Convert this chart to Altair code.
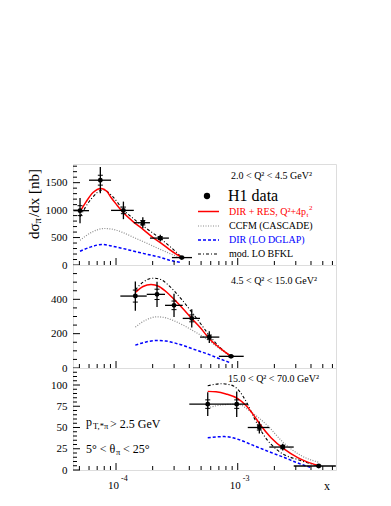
import altair as alt
import pandas as pd

FONT = "Liberation Serif"
XDOM = [4.43e-5, 6.42e-3]
W = 263

# ---------------- data: panel 1 (2.0 < Q2 < 4.5) ----------------
p1_x = [5.06e-5, 7.43e-5, 1.15e-4, 1.66e-4, 2.31e-4, 3.47e-4]
p1_xlo = [4.49e-5, 6.0e-5, 9.1e-5, 1.40e-4, 1.90e-4, 2.88e-4]
p1_xhi = [6.0e-5, 9.1e-5, 1.40e-4, 1.90e-4, 2.72e-4, 4.21e-4]
p1_y = [990, 1545, 995, 770, 490, 135]
p1_err = [230, 240, 160, 100, 60, 25]
p1_stat = [90, 90, 60, 40, 25, 10]

p1_red_x = [5.06e-5, 5.67e-5, 6.47e-5, 7.53e-5, 8.43e-5, 9.10e-5, 1.019e-4, 1.142e-4, 1.380e-4, 1.667e-4, 2.014e-4, 2.343e-4, 2.83e-4, 3.466e-4]
p1_red_y = [970, 1150, 1320, 1395, 1340, 1230, 1090, 960, 790, 650, 500, 400, 260, 135]
p1_bfkl_x = [5.06e-5, 6.23e-5, 7.82e-5, 9.45e-5, 1.142e-4, 1.380e-4, 1.667e-4, 2.014e-4, 2.343e-4, 2.83e-4, 3.466e-4]
p1_bfkl_y = [880, 1200, 1370, 1240, 1010, 850, 710, 580, 470, 320, 140]
p1_ccfm_x = [5.06e-5, 6.23e-5, 7.97e-5, 9.45e-5, 1.142e-4, 1.405e-4, 1.698e-4, 2.132e-4, 2.83e-4, 3.466e-4]
p1_ccfm_y = [450, 590, 665, 650, 590, 500, 420, 320, 200, 130]
p1_dir_x = [5.06e-5, 6.23e-5, 7.67e-5, 9.45e-5, 1.142e-4, 1.380e-4, 1.667e-4, 2.30e-4, 2.83e-4, 3.466e-4]
p1_dir_y = [250, 330, 375, 340, 300, 255, 212, 140, 80, 45]

# ---------------- data: panel 2 (4.5 < Q2 < 15.0) ----------------
p2_x = [1.441e-4, 2.172e-4, 2.996e-4, 4.19e-4, 5.84e-4, 8.81e-4]
p2_xlo = [1.085e-4, 1.788e-4, 2.527e-4, 3.532e-4, 4.90e-4, 7.0e-4]
p2_xhi = [1.788e-4, 2.527e-4, 3.532e-4, 4.90e-4, 7.06e-4, 1.12e-3]
p2_y = [419, 429, 365, 289, 180, 68]
p2_err = [85, 73, 68, 53, 34, 10]
p2_stat = [35, 30, 25, 20, 12, 5]

p2_red_x = [1.441e-4, 1.667e-4, 1.940e-4, 2.256e-4, 2.625e-4, 2.996e-4, 3.552e-4, 4.19e-4, 4.994e-4, 5.84e-4, 7.02e-4, 8.81e-4]
p2_red_y = [440, 475, 487, 475, 440, 400, 345, 288, 230, 170, 120, 68]
p2_bfkl_x = [1.441e-4, 1.667e-4, 2.014e-4, 2.343e-4, 2.625e-4, 2.996e-4, 3.552e-4, 4.19e-4, 4.994e-4, 5.84e-4, 7.02e-4, 8.81e-4]
p2_bfkl_y = [455, 500, 523, 515, 490, 450, 390, 325, 255, 190, 125, 68]
p2_ccfm_x = [1.441e-4, 1.764e-4, 2.172e-4, 2.575e-4, 2.996e-4, 3.552e-4, 4.19e-4, 4.994e-4, 5.84e-4, 7.02e-4, 8.81e-4]
p2_ccfm_y = [238, 280, 298, 292, 275, 250, 222, 190, 158, 115, 68]
p2_dir_x = [1.441e-4, 1.764e-4, 2.172e-4, 2.575e-4, 2.996e-4, 3.552e-4, 4.19e-4, 4.994e-4, 5.84e-4, 7.02e-4, 8.81e-4]
p2_dir_y = [133, 152, 160, 157, 147, 132, 113, 95, 78, 55, 29]

# ---------------- data: panel 3 (15.0 < Q2 < 70.0) ----------------
p3_x = [5.67e-4, 9.81e-4, 1.505e-3, 2.343e-3, 4.63e-3]
p3_xlo = [4.0e-4, 7.29e-4, 1.209e-3, 1.818e-3, 2.885e-3]
p3_xhi = [7.29e-4, 1.209e-3, 1.818e-3, 2.885e-3, 6.4e-3]
p3_y = [77.5, 77.5, 50, 27, 4.7]
p3_err = [14, 15, 7, 4, 1.5]
p3_stat = [5, 5, 3, 2, 0.8]

p3_red_x = [5.67e-4, 6.63e-4, 8.01e-4, 1.0e-3, 1.170e-3, 1.361e-3, 1.554e-3, 1.878e-3, 2.415e-3, 3.112e-3, 3.71e-3, 4.545e-3]
p3_red_y = [92.5, 92, 89.5, 84, 76, 64, 52, 38, 24.5, 14.5, 9.5, 5.5]
p3_bfkl_x = [5.67e-4, 7.29e-4, 8.81e-4, 1.0e-3, 1.209e-3, 1.368e-3, 1.654e-3, 2.132e-3, 3.312e-3, 4.63e-3]
p3_bfkl_y = [99, 101.5, 100, 95, 77, 61, 40, 23, 11, 4.5]
p3_ccfm_x = [5.67e-4, 7.29e-4, 1.0e-3, 1.239e-3, 1.469e-3, 1.764e-3, 2.343e-3, 3.312e-3, 4.63e-3]
p3_ccfm_y = [73, 76.5, 77.5, 70, 62, 52, 33, 17, 9]
p3_dir_x = [5.67e-4, 7.76e-4, 1.0e-3, 1.368e-3, 1.878e-3, 2.415e-3, 3.112e-3, 4.0e-3]
p3_dir_y = [38, 39.3, 36.2, 28.4, 20.6, 14.7, 8.2, 3]

# axis ticks
x_major = [1e-4, 1e-3]
x_minor = [5e-5, 6e-5, 7e-5, 8e-5, 9e-5, 2e-4, 3e-4, 4e-4, 5e-4, 6e-4, 7e-4, 8e-4, 9e-4,
           2e-3, 3e-3, 4e-3, 5e-3, 6e-3]
x_labels = ["10", "10"]
x_exps = ["-4", "-3"]

RED = "#ff0000"
BLUE = "#0000ff"
GRAY = "#8c8c8c"

xsc = alt.Scale(type="log", domain=XDOM, nice=False)
ONE = pd.DataFrame({"a": [0]})


def txt(s, x, y, size=10, color="black", align="left", angle=0):
    kw = dict(text=s, font=FONT, fontSize=size, color=color, align=align, baseline="middle")
    if angle:
        kw["angle"] = angle
    return alt.Chart(ONE).mark_text(**kw).encode(x=alt.value(x), y=alt.value(y))


def hline(x1, x2, y, color, width, dash):
    kw = dict(color=color, strokeWidth=width)
    if dash:
        kw["strokeDash"] = dash
    return alt.Chart(ONE).mark_rule(**kw).encode(x=alt.value(x1), x2=alt.value(x2), y=alt.value(y))


def panel(h, ydom, ymajor, yminor, px, pxlo, pxhi, py, perr, pstat, curves, extra):
    ysc = alt.Scale(domain=ydom, nice=False, zero=False)
    yax = alt.Axis(values=ymajor, ticks=False, domain=False, grid=False, title=None, format="d",
                   labelFont=FONT, labelFontSize=11, labelColor="black", labelPadding=6)
    X = lambda f: alt.X(f, scale=xsc, axis=None)
    Y = lambda f: alt.Y(f, scale=ysc, axis=yax)

    layers = []
    # model curves
    for xs, ys, color, width, dash in curves:
        kw = dict(color=color, strokeWidth=width, interpolate="monotone", clip=True)
        if dash:
            kw["strokeDash"] = dash
        layers.append(alt.Chart(pd.DataFrame({"x": xs, "y": ys})).mark_line(**kw)
                      .encode(x=X("x:Q"), y=Y("y:Q")))
    # data points
    df = pd.DataFrame({"x": px, "xlo": pxlo, "xhi": pxhi, "y": py,
                       "ylo": [a - b for a, b in zip(py, perr)],
                       "yhi": [a + b for a, b in zip(py, perr)],
                       "slo": [a - b for a, b in zip(py, pstat)],
                       "shi": [a + b for a, b in zip(py, pstat)]})
    base = alt.Chart(df)
    layers.append(base.mark_rule(color="black", strokeWidth=1.3, clip=True)
                  .encode(x=X("xlo:Q"), x2="xhi:Q", y=Y("y:Q")))
    layers.append(base.mark_rule(color="black", strokeWidth=1.3)
                  .encode(x=X("x:Q"), y=Y("ylo:Q"), y2="yhi:Q"))
    for f in ["slo:Q", "shi:Q"]:
        layers.append(base.mark_point(shape="M-1,0L1,0", size=25, filled=False,
                                      color="black", strokeWidth=1, opacity=1)
                      .encode(x=X("x:Q"), y=Y(f)))
    layers.append(base.mark_circle(size=24, color="black", opacity=1)
                  .encode(x=X("x:Q"), y=Y("y:Q")))
    # inner ticks
    layers.append(alt.Chart(pd.DataFrame({"v": x_major})).mark_rule(color="black", strokeWidth=1)
                  .encode(x=X("v:Q"), y=alt.value(h), y2=alt.value(h - 7)))
    layers.append(alt.Chart(pd.DataFrame({"v": x_minor})).mark_rule(color="black", strokeWidth=1)
                  .encode(x=X("v:Q"), y=alt.value(h), y2=alt.value(h - 4)))
    layers.append(alt.Chart(pd.DataFrame({"v": ymajor})).mark_rule(color="black", strokeWidth=1)
                  .encode(y=Y("v:Q"), x=alt.value(0), x2=alt.value(7)))
    layers.append(alt.Chart(pd.DataFrame({"v": yminor})).mark_rule(color="black", strokeWidth=1)
                  .encode(y=Y("v:Q"), x=alt.value(0), x2=alt.value(4)))
    layers += extra
    return alt.layer(*layers).properties(width=W, height=h)


def curveset(rx, ry, bx, by, cx, cy, dx, dy):
    return [
        (cx, cy, GRAY, 1.2, [1, 1.5]),
        (dx, dy, BLUE, 1.5, [3, 2]),
        (bx, by, "black", 1.1, [3, 2, 1, 2]),
        (rx, ry, RED, 1.5, None),
    ]


# panel 1 extras: legend + y title
leg1 = [
    txt("2.0 < Q² < 4.5 GeV²", 158, 12, 10),
    alt.Chart(ONE).mark_circle(size=40, color="black", opacity=1).encode(x=alt.value(134), y=alt.value(32)),
    txt("H1 data", 155, 32, 16),
    hline(125, 146, 47.5, RED, 1.5, None),
    txt("DIR + RES, Q²+4p", 156, 48, 10, RED),
    txt("t", 233.5, 51, 7, RED),
    txt("2", 236, 43.5, 7, RED),
    hline(125, 146, 62, GRAY, 1.2, [1, 1.5]),
    txt("CCFM (CASCADE)", 156, 62, 10),
    hline(125, 146, 76, BLUE, 1.5, [3, 2]),
    txt("DIR (LO DGLAP)", 156, 76, 10, BLUE),
    hline(125, 146, 90, "black", 1.1, [3, 2, 1, 2]),
    txt("mod. LO BFKL", 156, 90, 10),
    txt("dσ", -39, 75, 15, angle=270),
    txt("π", -35, 59.5, 10.5, angle=270),
    txt("/dx [nb]", -39, 53, 15, angle=270),
]
p1 = panel(101, [0, 1840], [0, 500, 1000, 1500],
           [100, 200, 300, 400, 600, 700, 800, 900, 1100, 1200, 1300, 1400, 1600, 1700, 1800],
           p1_x, p1_xlo, p1_xhi, p1_y, p1_err, p1_stat,
           curveset(p1_red_x, p1_red_y, p1_bfkl_x, p1_bfkl_y, p1_ccfm_x, p1_ccfm_y, p1_dir_x, p1_dir_y),
           leg1)

p2 = panel(103, [0, 600], [0, 200, 400],
           [50, 100, 150, 250, 300, 350, 450, 500, 550],
           p2_x, p2_xlo, p2_xhi, p2_y, p2_err, p2_stat,
           curveset(p2_red_x, p2_red_y, p2_bfkl_x, p2_bfkl_y, p2_ccfm_x, p2_ccfm_y, p2_dir_x, p2_dir_y),
           [txt("4.5 < Q² < 15.0 GeV²", 158, 16, 10)])

xs_lab = pd.DataFrame({"v": x_major, "t": x_labels, "e": x_exps})
p3_extra = [
    txt("15.0 < Q² < 70.0 GeV²", 155, 11, 10),
    txt("p", 13, 54, 12),
    txt("T,*π", 20, 58, 8.5),
    txt("> 2.5 GeV", 37, 56, 12),
    txt("5° < θ", 13, 81, 12),
    txt("π", 43, 84, 8.5),
    txt("< 25°", 50, 81, 12),
    alt.Chart(xs_lab).mark_text(font=FONT, fontSize=11, align="right", baseline="middle", dx=3, color="black")
    .encode(x=alt.X("v:Q", scale=xsc, axis=None), y=alt.value(118), text="t:N"),
    alt.Chart(xs_lab).mark_text(font=FONT, fontSize=8, align="left", baseline="middle", dx=5, color="black")
    .encode(x=alt.X("v:Q", scale=xsc, axis=None), y=alt.value(111), text="e:N"),
    txt("x", 254, 118, 12, align="center"),
]
p3 = panel(102, [0, 120], [0, 25, 50, 75, 100],
           [5, 10, 15, 20, 30, 35, 40, 45, 55, 60, 65, 70, 80, 85, 90, 95, 105, 110, 115],
           p3_x, p3_xlo, p3_xhi, p3_y, p3_err, p3_stat,
           curveset(p3_red_x, p3_red_y, p3_bfkl_x, p3_bfkl_y, p3_ccfm_x, p3_ccfm_y, p3_dir_x, p3_dir_y),
           p3_extra)

chart = (
    alt.vconcat(p1, p2, p3, spacing=0, bounds="flush")
    .resolve_scale(y="independent")
    .properties(padding={"left": 18, "top": 155, "right": 5, "bottom": 5})
    .configure_view(stroke="black", strokeWidth=1.2)
    .configure(background="white")
)

chart.save("out.html", embed_options={"renderer": "svg", "actions": False})
